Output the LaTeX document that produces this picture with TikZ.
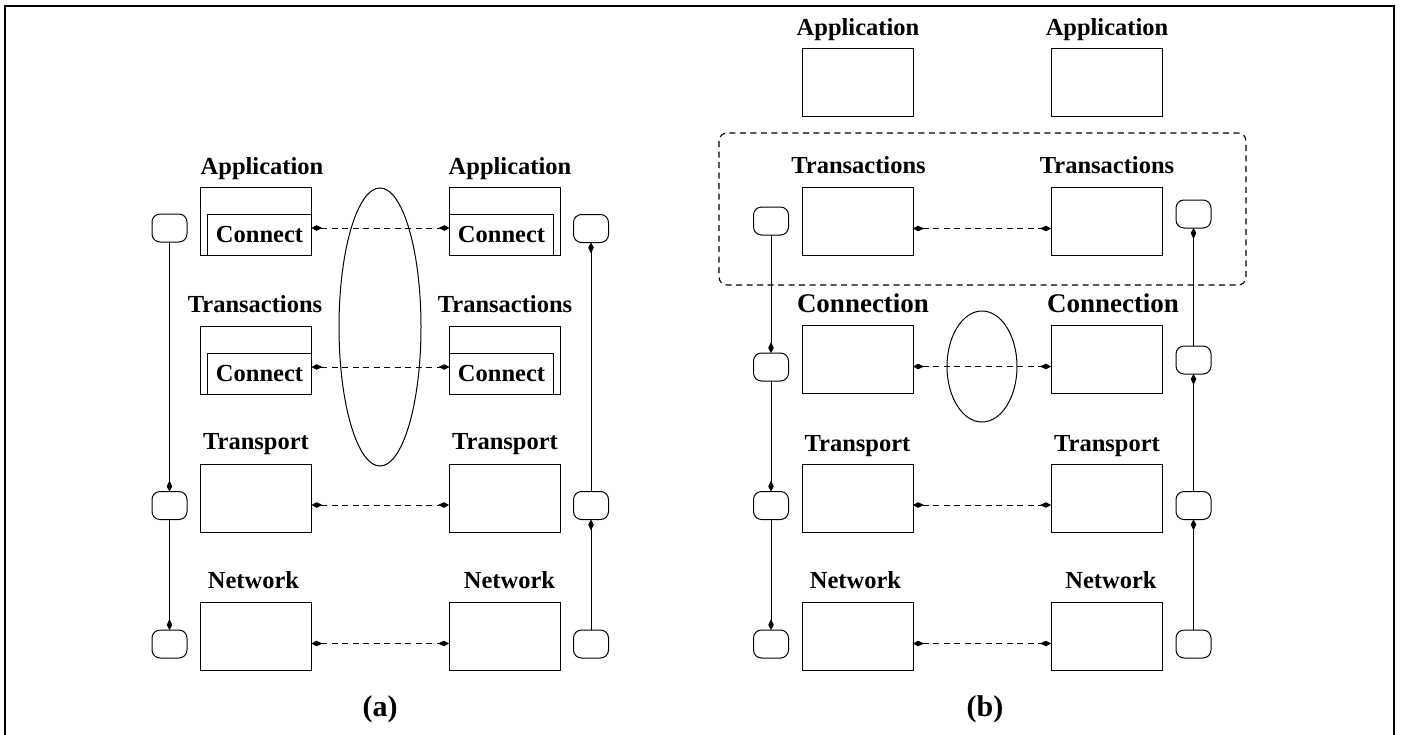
\documentclass[tikz,border=0pt]{standalone}
\usepackage{fontspec}
\setmainfont{Liberation Serif}
\usetikzlibrary{arrows.meta,shapes.geometric}
\newcommand\labfont{\fontsize{24.5}{28}\selectfont\bfseries}
\newcommand\bigfont{\fontsize{27}{31}\selectfont\bfseries}
\newcommand\capfont{\fontsize{30}{34}\selectfont\bfseries}
\begin{document}
\begin{tikzpicture}[x=1pt,y=-1pt,
  lay/.style={draw,line width=1pt,minimum width=111pt,minimum height=68pt,inner sep=0pt,outer sep=0pt},
  inbox/.style={draw,line width=1pt,minimum width=104pt,minimum height=41pt,inner sep=0pt,outer sep=0pt,font=\labfont},
  sb/.style={draw,line width=1pt,rounded corners=8pt,minimum width=35pt,minimum height=28pt,inner sep=0pt,outer sep=0pt},
  lab/.style={anchor=base,inner sep=0pt,font=\labfont},
  biglab/.style={anchor=base,inner sep=0pt,font=\bigfont},
  tip/.tip={Kite[length=11pt,width=5.5pt,inset=6pt]},
  peer/.style={line width=1pt,dash pattern=on 6pt off 4.5pt,tip-tip},
  flow/.style={line width=1pt,-tip},
  grp/.style={line width=1.1pt,dash pattern=on 6pt off 4.5pt,rounded corners=8pt},
  ring/.style={draw,line width=1pt}]
\useasboundingbox (0,0) rectangle (1403,734);
% outer frame
\draw[line width=2pt] (5,745) -- (5,6) -- (1394,6) -- (1394,745);

% ---------------- (a) ----------------
\node[lay] (aL1) at (256,221.5) {};
\node[lay] (aR1) at (504.5,221.5) {};
\node[lay] (aL2) at (256,360.5) {};
\node[lay] (aR2) at (504.5,360.5) {};
\node[lay] (aL3) at (256,498) {};
\node[lay] (aR3) at (504.5,498) {};
\node[lay] (aL4) at (256,636.5) {};
\node[lay] (aR4) at (504.5,636.5) {};
\node[inbox] (cL1) at (259.5,235) {Connect};
\node[inbox] (cR1) at (501.5,235) {Connect};
\node[inbox] (cL2) at (259.5,374) {Connect};
\node[inbox] (cR2) at (501.5,374) {Connect};

\node[lab] (tL1) at (262,174) {Application};
\node[lab] (tR1) at (510,174) {Application};
\node[lab] (tL2) at (255,312) {Transactions};
\node[lab] (tR2) at (505,312) {Transactions};
\node[lab] (tL3) at (256,449.5) {Transport};
\node[lab] (tR3) at (505,449.5) {Transport};
\node[lab] (tL4) at (253.5,588.5) {Network};
\node[lab] (tR4) at (509.5,588.5) {Network};

\node[sb] (sL1) at (169.5,228) {};
\node[sb] (sL3) at (169.5,505.5) {};
\node[sb] (sL4) at (169.5,644) {};
\node[sb] (sR1) at (591,228.5) {};
\node[sb] (sR3) at (591,505.5) {};
\node[sb] (sR4) at (591,644) {};

\node[ring,ellipse,minimum width=82pt,minimum height=278pt,inner sep=0pt] (eA) at (380,327) {};

\draw[peer] ([yshift=7pt]cL1.east) -- ([yshift=7pt]cR1.west);
\draw[peer] ([yshift=7pt]cL2.east) -- ([yshift=7pt]cR2.west);
\draw[peer] ([yshift=-7pt]aL3.east) -- ([yshift=-7pt]aR3.west);
\draw[peer] ([yshift=-7pt]aL4.east) -- ([yshift=-7pt]aR4.west);

\draw[flow] (sL1) -- (sL3);
\draw[flow] (sL3) -- (sL4);
\draw[flow] (sR4) -- (sR3);
\draw[flow] (sR3) -- (sR1);

\node[anchor=base,inner sep=0pt,font=\capfont] (capA) at (380,716) {(a)};

% ---------------- (b) ----------------
\draw[grp] (719,133) rectangle (1246,285);

\node[lay] (bL0) at (857.5,82.5) {};
\node[lay] (bR0) at (1106.5,82.5) {};
\node[lay] (bL1) at (857.5,221.5) {};
\node[lay] (bR1) at (1106.5,221.5) {};
\node[lay] (bL2) at (857.5,359.5) {};
\node[lay] (bR2) at (1106.5,359.5) {};
\node[lay] (bL3) at (857.5,498) {};
\node[lay] (bR3) at (1106.5,498) {};
\node[lay] (bL4) at (857.5,636.5) {};
\node[lay] (bR4) at (1106.5,636.5) {};

\node[lab] (uL0) at (858,35) {Application};
\node[lab] (uR0) at (1107,35) {Application};
\node[lab] (uL1) at (858.5,173.5) {Transactions};
\node[lab] (uR1) at (1107,173.5) {Transactions};
\node[biglab] (uL2) at (863,312) {Connection};
\node[biglab] (uR2) at (1113,312) {Connection};
\node[lab] (uL3) at (857.5,451) {Transport};
\node[lab] (uR3) at (1107,451) {Transport};
\node[lab] (uL4) at (855.5,588.5) {Network};
\node[lab] (uR4) at (1111,588.5) {Network};

\node[sb] (qL1) at (771,221) {};
\node[sb] (qL2) at (771,367) {};
\node[sb] (qL3) at (771,505.5) {};
\node[sb] (qL4) at (771,644) {};
\node[sb] (qR1) at (1193.5,214) {};
\node[sb] (qR2) at (1193.5,360) {};
\node[sb] (qR3) at (1193.5,505.5) {};
\node[sb] (qR4) at (1193.5,644) {};

\node[ring,ellipse,minimum width=70pt,minimum height=111pt,inner sep=0pt] (eB) at (982,366.5) {};

\draw[peer] ([yshift=-7pt]bL1.east) -- ([yshift=-7pt]bR1.west);
\draw[peer] ([yshift=-7pt]bL2.east) -- ([yshift=-7pt]bR2.west);
\draw[peer] ([yshift=-7pt]bL3.east) -- ([yshift=-7pt]bR3.west);
\draw[peer] ([yshift=-7pt]bL4.east) -- ([yshift=-7pt]bR4.west);

\draw[flow] (qL1) -- (qL2);
\draw[flow] (qL2) -- (qL3);
\draw[flow] (qL3) -- (qL4);
\draw[flow] (qR4) -- (qR3);
\draw[flow] (qR3) -- (qR2);
\draw[flow] (qR2) -- (qR1);

\node[anchor=base,inner sep=0pt,font=\capfont] (capB) at (985,716) {(b)};
\end{tikzpicture}
\end{document}
